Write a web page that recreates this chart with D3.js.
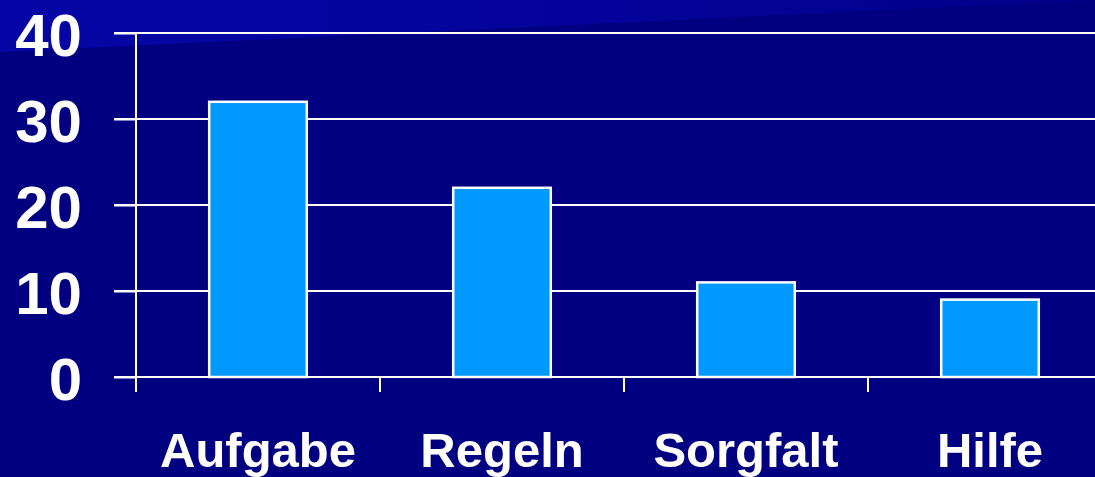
<!DOCTYPE html>
<html>
<head>
<meta charset="utf-8">
<script src="https://cdn.jsdelivr.net/npm/d3@7"></script>
<style>
  html, body { margin: 0; padding: 0; background: #000080; overflow: hidden; }
  svg { display: block; }
</style>
</head>
<body>
<div id="chart"></div>
<script>
// ----- Data -----
const categories = ["Aufgabe", "Regeln", "Sorgfalt", "Hilfe"];
const values     = [32, 22, 11, 9];
const yTicks     = [0, 10, 20, 30, 40];

// ----- Layout -----
const width  = 1095;
const height = 477;
const margin = { top: 33, left: 136, bottom: 100 };
const y0     = height - margin.bottom;   // baseline of value 0
const step   = 244;                      // one category slot

const svg = d3.select("#chart")
  .append("svg")
  .attr("width", width)
  .attr("height", height);

// background + light band at the top left
const defs = svg.append("defs");
const grad = defs.append("linearGradient")
  .attr("id", "topGlow")
  .attr("x1", "0%").attr("x2", "100%")
  .attr("y1", "0%").attr("y2", "0%");
grad.append("stop").attr("offset", "0%").attr("stop-color", "#0606a6");
grad.append("stop").attr("offset", "60%").attr("stop-color", "#03039a");
grad.append("stop").attr("offset", "100%").attr("stop-color", "#00008a");

svg.append("rect")
  .attr("width", width)
  .attr("height", height)
  .attr("fill", "#000080");

svg.append("path")
  .attr("d", `M0,0 L${width},0 L${width},0 L0,52 Z`)
  .attr("fill", "url(#topGlow)");

// ----- Scales -----
const x = d3.scaleBand()
  .domain(categories)
  .range([margin.left, margin.left + step * categories.length])
  .paddingInner(0.6)
  .paddingOuter(0.3);

const y = d3.scaleLinear()
  .domain([0, 40])
  .range([y0, margin.top]);

// ----- Gridlines -----
svg.append("g")
  .selectAll("line")
  .data(yTicks)
  .enter()
  .append("line")
  .attr("x1", margin.left - 22)
  .attr("x2", width)
  .attr("y1", d => y(d))
  .attr("y2", d => y(d))
  .attr("stroke", "#ffffff")
  .attr("stroke-width", 2);

// ----- Y axis -----
const yAxis = svg.append("g")
  .attr("transform", `translate(${margin.left},0)`)
  .call(d3.axisLeft(y).tickValues(yTicks).tickSize(22).tickPadding(32));

yAxis.select(".domain")
  .attr("stroke", "#ffffff")
  .attr("stroke-width", 2)
  .attr("d", `M0,${y(40)}V${y0 + 15}`);

yAxis.selectAll(".tick line")
  .attr("stroke", "#ffffff")
  .attr("stroke-width", 2);

yAxis.selectAll(".tick text")
  .attr("fill", "#ffffff")
  .attr("dy", "0.37em")
  .style("font-family", "'Liberation Sans', Arial, sans-serif")
  .style("font-weight", "bold")
  .style("font-size", "60px");

// ----- X ticks (category boundaries) -----
svg.append("g")
  .selectAll("line")
  .data(categories)
  .enter()
  .append("line")
  .attr("x1", d => x(d) - x.step() * 0.3)
  .attr("x2", d => x(d) - x.step() * 0.3)
  .attr("y1", y0)
  .attr("y2", y0 + 15)
  .attr("stroke", "#ffffff")
  .attr("stroke-width", 2);

// ----- Bars -----
svg.append("g")
  .selectAll("rect")
  .data(categories)
  .enter()
  .append("rect")
  .attr("x", d => x(d))
  .attr("width", x.bandwidth())
  .attr("y", (d, i) => y(values[i]))
  .attr("height", (d, i) => y0 - y(values[i]))
  .attr("fill", "#0099ff")
  .attr("stroke", "#ffffff")
  .attr("stroke-width", 2.5);

// ----- Category labels -----
svg.append("g")
  .selectAll("text")
  .data(categories)
  .enter()
  .append("text")
  .attr("x", d => x(d) + x.bandwidth() / 2)
  .attr("y", 467)
  .attr("text-anchor", "middle")
  .attr("fill", "#ffffff")
  .style("font-family", "'Liberation Sans', Arial, sans-serif")
  .style("font-weight", "bold")
  .style("font-size", "49px")
  .text(d => d);
</script>
</body>
</html>
